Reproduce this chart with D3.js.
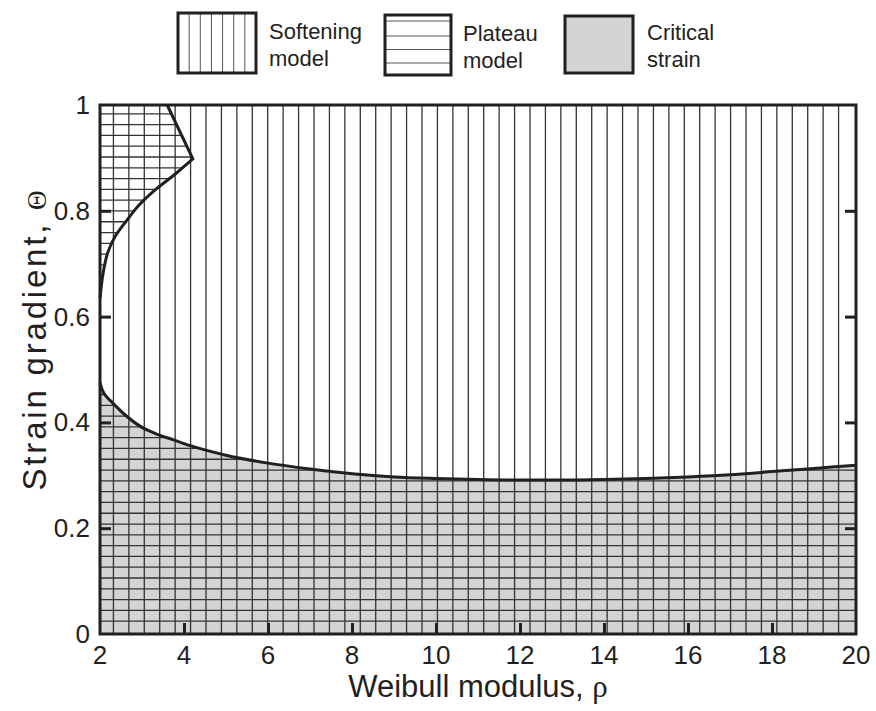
<!DOCTYPE html>
<html>
<head>
<meta charset="utf-8">
<script src="https://cdn.jsdelivr.net/npm/d3@7"></script>
<style>
  html, body { margin: 0; padding: 0; background: #ffffff; }
  svg { display: block; }
  text { font-family: "Liberation Sans", Arial, Helvetica, sans-serif; fill: #231f20; }
  .sym { font-family: "Liberation Serif", "DejaVu Serif", serif; }
</style>
</head>
<body>
<svg id="chart" width="876" height="711"></svg>
<script>
// Boundary between the plateau model region (upper left) and the softening model region
const plateauRho   = [2.00, 2.07, 2.18, 2.35, 2.62, 2.92, 3.32, 3.80, 4.21];
const plateauTheta = [0.635, 0.68, 0.72, 0.75, 0.78, 0.81, 0.84, 0.87, 0.898];
// the boundary closes with a straight segment up to the top edge
const plateauTopRho = 3.60;
const plateauTopTheta = 1.0;

// Critical strain boundary
const criticalRho   = [2.0, 2.05, 2.15, 2.3, 2.6, 2.95, 3.35, 3.75, 4.15, 5.0, 6.0, 7.0, 8.0, 9.0, 10.0, 11.0, 12.0, 13.0, 14.0, 15.0, 16.0, 17.0, 18.0, 19.0, 20.0];
const criticalTheta = [0.475, 0.462, 0.449, 0.437, 0.414, 0.393, 0.378, 0.367, 0.356, 0.338, 0.323, 0.312, 0.303, 0.297, 0.294, 0.292, 0.291, 0.291, 0.292, 0.294, 0.297, 0.301, 0.307, 0.313, 0.319];

// Axis ticks
const xTicks = [2, 4, 6, 8, 10, 12, 14, 16, 18, 20];
const yTicks = [0, 0.2, 0.4, 0.6, 0.8, 1];
const xTickLabels = ["2", "4", "6", "8", "10", "12", "14", "16", "18", "20"];
const yTickLabels = ["0", "0.2", "0.4", "0.6", "0.8", "1"];

// Legend entries
const legendNames = [["Softening", "model"], ["Plateau", "model"], ["Critical", "strain"]];
const legendKinds = ["vertical", "horizontal", "fill"];

const INK = "#231f20";
const HATCH = "#333333";
const GREY = "#d3d5d5";
const HATCH_DIVISIONS = 49;

const svg = d3.select("#chart");
const pLeft = 100, pRight = 856, pTop = 105, pBottom = 634;

const x = d3.scaleLinear().domain([2, 20]).range([pLeft, pRight]);
const y = d3.scaleLinear().domain([0, 1]).range([pBottom, pTop]);

const plateauPts = plateauRho.map((r, i) => [r, plateauTheta[i]]);
const criticalPts = criticalRho.map((r, i) => [r, criticalTheta[i]]);

const plateauCurve = d3.line().x(d => x(d[0])).y(d => y(d[1])).curve(d3.curveCatmullRom.alpha(0.5));
const criticalCurve = d3.line().x(d => x(d[0])).y(d => y(d[1])).curve(d3.curveMonotoneX);

// Closed region outlines
const plateauEdge = plateauCurve(plateauPts) + "L" + x(plateauTopRho) + "," + y(plateauTopTheta);
const plateauRegion = plateauEdge + "L" + x(2) + "," + y(1) + "Z";
const criticalEdge = criticalCurve(criticalPts);
const criticalRegion = criticalEdge + "L" + x(20) + "," + y(0) + "L" + x(2) + "," + y(0) + "Z";

const defs = svg.append("defs");
defs.append("clipPath").attr("id", "plotClip")
  .append("rect").attr("x", pLeft).attr("y", pTop).attr("width", pRight - pLeft).attr("height", pBottom - pTop);
const hClip = defs.append("clipPath").attr("id", "hatchClip");
hClip.append("path").attr("d", plateauRegion);
hClip.append("path").attr("d", criticalRegion);

// Critical strain shading
svg.append("path").attr("d", criticalRegion).attr("fill", GREY);

// Vertical hatching (softening model) across the whole plot
const step = (pRight - pLeft) / HATCH_DIVISIONS;
svg.append("g").attr("clip-path", "url(#plotClip)")
  .selectAll("line").data(d3.range(1, HATCH_DIVISIONS)).join("line")
  .attr("x1", k => pLeft - 2 + k * step).attr("x2", k => pLeft - 2 + k * step)
  .attr("y1", pTop).attr("y2", pBottom)
  .attr("stroke", HATCH).attr("stroke-width", 1.3);

// Horizontal hatching in plateau and critical strain regions
const vstep = (pBottom - pTop) / HATCH_DIVISIONS;
svg.append("g").attr("clip-path", "url(#hatchClip)")
  .selectAll("line").data(d3.range(1, HATCH_DIVISIONS)).join("line")
  .attr("x1", pLeft).attr("x2", pRight)
  .attr("y1", k => pTop - 2 + k * vstep).attr("y2", k => pTop - 2 + k * vstep)
  .attr("stroke", HATCH).attr("stroke-width", 1.3);

// Region boundaries
svg.append("path").attr("d", plateauEdge).attr("fill", "none")
  .attr("stroke", INK).attr("stroke-width", 3).attr("stroke-linejoin", "miter");
svg.append("path").attr("d", criticalEdge).attr("fill", "none")
  .attr("stroke", INK).attr("stroke-width", 3);

// Frame
svg.append("rect").attr("x", pLeft).attr("y", pTop).attr("width", pRight - pLeft).attr("height", pBottom - pTop)
  .attr("fill", "none").attr("stroke", INK).attr("stroke-width", 3);

// Inward ticks
const tickLen = 11;
const bottomAxis = d3.axisTop(x).tickValues(xTicks.slice(1, -1)).tickSize(tickLen).tickFormat("");
const leftAxis = d3.axisRight(y).tickValues(yTicks.slice(1, -1)).tickSize(tickLen).tickFormat("");
const rightAxis = d3.axisLeft(y).tickValues(yTicks.slice(1, -1)).tickSize(tickLen).tickFormat("");
[[bottomAxis, `translate(0,${pBottom})`], [leftAxis, `translate(${pLeft},0)`], [rightAxis, `translate(${pRight},0)`]]
  .forEach(([ax, tr]) => {
    const g = svg.append("g").attr("transform", tr).call(ax);
    g.select(".domain").remove();
    g.selectAll(".tick line").attr("stroke", INK).attr("stroke-width", 3);
  });

// Tick labels
svg.append("g").selectAll("text").data(xTicks).join("text")
  .attr("x", d => x(d)).attr("y", 664)
  .attr("text-anchor", "middle").attr("font-size", 26)
  .text((d, i) => xTickLabels[i]);
svg.append("g").selectAll("text").data(yTicks).join("text")
  .attr("x", 90).attr("y", d => y(d) + 9)
  .attr("text-anchor", "end").attr("font-size", 26)
  .text((d, i) => yTickLabels[i]);

// Axis titles
const xt = svg.append("text").attr("x", (pLeft + pRight) / 2).attr("y", 697)
  .attr("text-anchor", "middle").attr("font-size", 31);
xt.append("tspan").text("Weibull modulus, ");
xt.append("tspan").attr("class", "sym").text("ρ");

const yt = svg.append("text").attr("transform", "translate(46,339) rotate(-90)")
  .attr("text-anchor", "middle").attr("font-size", 33).attr("letter-spacing", 2.8);
yt.append("tspan").text("Strain gradient, ");
yt.append("tspan").attr("class", "sym").attr("font-size", 27).text("Θ");

// Legend
const boxes = [
  { x: 178, y: 13, w: 78, h: 60, tx: 269, ty: 39 },
  { x: 385, y: 15, w: 66, h: 60, tx: 463, ty: 41 },
  { x: 565, y: 16, w: 68, h: 57, tx: 647, ty: 40 }
];
boxes.forEach((b, i) => {
  const g = svg.append("g");
  const kind = legendKinds[i];
  if (kind === "fill") {
    g.append("rect").attr("x", b.x).attr("y", b.y).attr("width", b.w).attr("height", b.h).attr("fill", GREY);
  } else if (kind === "vertical") {
    g.selectAll("line").data(d3.range(1, 7)).join("line")
      .attr("x1", k => b.x + k * b.w / 7).attr("x2", k => b.x + k * b.w / 7)
      .attr("y1", b.y).attr("y2", b.y + b.h)
      .attr("stroke", "#555").attr("stroke-width", 1);
  } else {
    g.selectAll("line").data([6, 21, 34.5, 48]).join("line")
      .attr("x1", b.x).attr("x2", b.x + b.w)
      .attr("y1", k => b.y + k).attr("y2", k => b.y + k)
      .attr("stroke", "#555").attr("stroke-width", 1);
  }
  g.append("rect").attr("x", b.x).attr("y", b.y).attr("width", b.w).attr("height", b.h)
    .attr("fill", "none").attr("stroke", INK).attr("stroke-width", 3);
  svg.append("text").attr("x", b.tx).attr("y", b.ty).attr("font-size", 22).text(legendNames[i][0]);
  svg.append("text").attr("x", b.tx).attr("y", b.ty + 27).attr("font-size", 22).text(legendNames[i][1]);
});
</script>
</body>
</html>
